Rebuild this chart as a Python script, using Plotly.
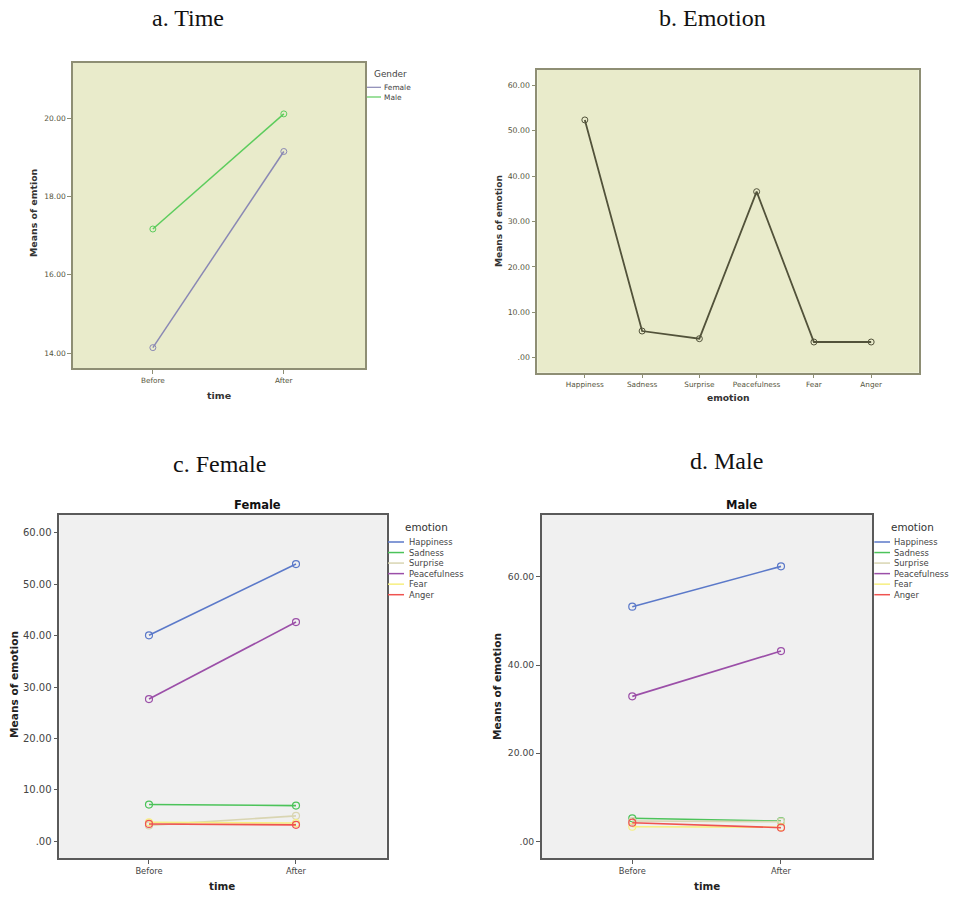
import plotly.graph_objects as go

W, H = 954, 897

# ---------------- data ----------------
time_labels = ["Before", "After"]
gender_names = ["Female", "Male"]
female_means = [14.14, 19.15]
male_means = [17.17, 20.11]

emotions = ["Happiness", "Sadness", "Surprise", "Peacefulness", "Fear", "Anger"]
emotion_means = [52.37, 5.88, 4.19, 36.57, 3.46, 3.46]

female_by_emotion = {
    "Happiness": [40.05, 53.9],
    "Sadness": [7.15, 6.95],
    "Surprise": [3.1, 4.95],
    "Peacefulness": [27.66, 42.63],
    "Fear": [3.7, 3.55],
    "Anger": [3.38, 3.2],
}
male_by_emotion = {
    "Happiness": [53.25, 62.41],
    "Sadness": [5.22, 4.58],
    "Surprise": [4.6, 4.45],
    "Peacefulness": [32.9, 43.19],
    "Fear": [3.3, 3.2],
    "Anger": [4.22, 3.09],
}

ticks_a = [14, 16, 18, 20]
ticktext_a = ["14.00", "16.00", "18.00", "20.00"]
ticks_bc = [0, 10, 20, 30, 40, 50, 60]
ticktext_bc = [".00", "10.00", "20.00", "30.00", "40.00", "50.00", "60.00"]
ticks_d = [0, 20, 40, 60]
ticktext_d = [".00", "20.00", "40.00", "60.00"]

panel_titles = ["a. Time", "b. Emotion", "c. Female", "d. Male"]

# ---------------- styles ----------------
FONT = "DejaVu Sans"
SERIF = "Liberation Serif"
BG_AB = "#e9ebcb"
BG_CD = "#f0f0f0"
BORDER_AB = "#8e8e74"
BORDER_CD = "#5a5a5a"
TICKCOL_AB = "#55553c"
TICKCOL_CD = "#444444"
gender_colors = {"Female": "#8a88b4", "Male": "#5ccc5c"}
emotion_colors = {
    "Happiness": "#5b79c9",
    "Sadness": "#4cc35a",
    "Surprise": "#d9d5b2",
    "Peacefulness": "#9b4fa8",
    "Fear": "#f7ef80",
    "Anger": "#ef5350",
}
LINE_B = "#52523a"


def px_x(v):
    return v / W


def px_y(v):
    return 1 - v / H


fig = go.Figure()

# panel a
for name, vals in zip(gender_names, [female_means, male_means]):
    fig.add_trace(go.Scatter(
        x=time_labels, y=vals, mode="lines+markers", name=name,
        line=dict(color=gender_colors[name], width=1.5),
        marker=dict(symbol="circle-open", size=6, color=gender_colors[name], line=dict(width=1)),
        xaxis="x", yaxis="y", showlegend=False))

# panel b
fig.add_trace(go.Scatter(
    x=emotions, y=emotion_means, mode="lines+markers", name="emotion",
    line=dict(color=LINE_B, width=1.8),
    marker=dict(symbol="circle-open", size=6, color=LINE_B, line=dict(width=1)),
    xaxis="x2", yaxis="y2", showlegend=False))

# panels c, d
for data, xa, ya in [(female_by_emotion, "x3", "y3"), (male_by_emotion, "x4", "y4")]:
    for emo in emotions:
        c = emotion_colors[emo]
        fig.add_trace(go.Scatter(
            x=time_labels, y=data[emo], mode="lines+markers", name=emo,
            line=dict(color=c, width=1.6),
            marker=dict(symbol="circle-open", size=7, color=c, line=dict(width=1.2)),
            xaxis=xa, yaxis=ya, showlegend=False))


def xax(dom, rng, border, tickcol, size, anchor):
    return dict(domain=[px_x(dom[0]), px_x(dom[1])], range=rng, type="category",
                showline=True, linecolor=border, linewidth=1.5, mirror=True,
                ticks="outside", ticklen=4, tickcolor=border, showgrid=False,
                zeroline=False, tickfont=dict(family=FONT, size=size, color=tickcol),
                anchor=anchor, fixedrange=True)


def yax(dom, rng, tv, tt, border, tickcol, size, anchor):
    return dict(domain=[px_y(dom[1]), px_y(dom[0])], range=rng,
                tickvals=tv, ticktext=tt,
                showline=True, linecolor=border, linewidth=1.5, mirror=True,
                ticks="outside", ticklen=4, tickcolor=border, showgrid=False,
                zeroline=False, tickfont=dict(family=FONT, size=size, color=tickcol),
                anchor=anchor, fixedrange=True)


layout = dict(
    width=W, height=H, margin=dict(l=0, r=0, t=0, b=0),
    paper_bgcolor="white", plot_bgcolor="white",
    xaxis=xax((73, 365), [-0.61, 1.62], BORDER_AB, TICKCOL_AB, 7.3, "y"),
    yaxis=yax((63, 368), [13.62, 21.41], ticks_a, ticktext_a, BORDER_AB, TICKCOL_AB, 7.5, "x"),
    xaxis2=xax((537.3, 918.7), [-0.83, 5.83], BORDER_AB, TICKCOL_AB, 7.3, "y2"),
    yaxis2=yax((70, 372.7), [-3.3, 63.37], ticks_bc, ticktext_bc, BORDER_AB, TICKCOL_AB, 7.8, "x2"),
    xaxis3=xax((59.3, 386.7), [-0.61, 1.617], BORDER_CD, TICKCOL_CD, 8.3, "y3"),
    yaxis3=yax((515, 858.3), [-3.3, 63.44], ticks_bc, ticktext_bc, BORDER_CD, TICKCOL_CD, 10, "x3"),
    xaxis4=xax((541.7, 872.3), [-0.609, 1.614], BORDER_CD, TICKCOL_CD, 8.3, "y4"),
    yaxis4=yax((515, 858.3), [-3.86, 74.07], ticks_d, ticktext_d, BORDER_CD, TICKCOL_CD, 9.2, "x4"),
)
fig.update_layout(**layout)

# plot backgrounds
for (x0, x1, y0, y1, bg) in [(73, 365, 63, 368, BG_AB), (537.3, 918.7, 70, 372.7, BG_AB),
                             (59.3, 386.7, 515, 858.3, BG_CD), (541.7, 872.3, 515, 858.3, BG_CD)]:
    fig.add_shape(type="rect", xref="paper", yref="paper", layer="below",
                  x0=px_x(x0), x1=px_x(x1), y0=px_y(y1), y1=px_y(y0),
                  fillcolor=bg, line=dict(width=0))

annots = []


def txt(x, y, s, size, color="#333333", bold=False, family=FONT, angle=0, xanchor="center"):
    annots.append(dict(x=px_x(x), y=px_y(y), xref="paper", yref="paper", text=("<b>%s</b>" % s) if bold else s,
                       showarrow=False, font=dict(family=family, size=size, color=color),
                       textangle=angle, xanchor=xanchor, yanchor="middle"))


# panel captions
txt(188, 18, panel_titles[0], 24, "#111111", family=SERIF)
txt(712, 18, panel_titles[1], 24, "#111111", family=SERIF)
txt(219, 464, panel_titles[2], 24, "#111111", family=SERIF)
txt(726, 461, panel_titles[3], 24, "#111111", family=SERIF)

# axis titles
txt(33, 213, "Means of emtion", 9.4, "#333333", bold=True, angle=-90)
txt(219, 395, "time", 9.5, "#333333", bold=True)
txt(499, 221, "Means of emotion", 9.1, "#333333", bold=True, angle=-90)
txt(728, 397, "emotion", 9.2, "#333333", bold=True)
txt(14, 685, "Means of emotion", 10.6, "#222222", bold=True, angle=-90)
txt(222, 886, "time", 10.3, "#222222", bold=True)
txt(497, 687, "Means of emotion", 10.6, "#222222", bold=True, angle=-90)
txt(707, 886, "time", 10.3, "#222222", bold=True)

# chart titles c, d
txt(257, 505.5, "Female", 11.5, "#111111", bold=True)
txt(741, 505.5, "Male", 11.5, "#111111", bold=True)

# legend a
txt(372, 73.5, "Gender", 8.9, "#444444", xanchor="left")
for i, name in enumerate(gender_names):
    yy = 87.3 + i * 9.7
    fig.add_shape(type="line", xref="paper", yref="paper", x0=px_x(367), x1=px_x(381),
                  y0=px_y(yy), y1=px_y(yy), line=dict(color=gender_colors[name], width=1.2))
    txt(382, yy, name, 7.4, "#444444", xanchor="left")

# legends c, d
for (lx0, lx1, tx, hx) in [(388, 404, 406.5, 403), (874.3, 890, 892, 889.3)]:
    txt(hx, 526.7, "emotion", 10.4, "#333333", xanchor="left")
    for i, emo in enumerate(emotions):
        yy = 542 + i * 10.54
        fig.add_shape(type="line", xref="paper", yref="paper", x0=px_x(lx0), x1=px_x(lx1),
                      y0=px_y(yy), y1=px_y(yy), line=dict(color=emotion_colors[emo], width=1.5))
        txt(tx, yy, emo, 8.4, "#444444", xanchor="left")

fig.update_layout(annotations=annots)
fig.write_html("out.html", config={"displayModeBar": False},
               post_script="document.body.style.margin='0';document.body.style.overflow='hidden';")
